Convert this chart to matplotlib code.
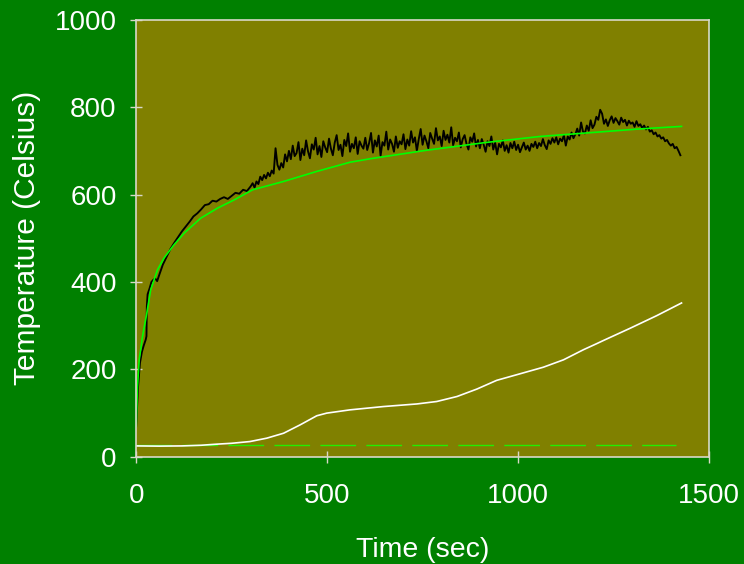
import numpy as np
import matplotlib.pyplot as plt

plt.rcParams['font.family'] = ['Liberation Sans', 'DejaVu Sans']

black_t_start = [0, 5, 10, 15, 20, 25, 27, 28, 30, 35, 40, 45, 50, 55, 60, 70, 80, 90,
                 100, 110, 120, 130, 140, 150, 160, 170, 180, 190, 200, 210, 220, 230,
                 240, 250, 260, 270, 280, 290]
black_v_start = [70, 160, 215, 240, 255, 268, 276, 345, 372, 385, 400, 405, 408, 402, 415,
                 440, 458, 476, 490, 503, 516, 527, 538, 550, 557, 566, 576, 578, 586, 584,
                 590, 594, 590, 597, 604, 602, 611, 608]

# rest of the black trace, one reading every 5 s from 300 s
black_v_rest = [
    619, 626, 616, 630, 624, 641, 633, 645, 637, 650, 642, 655, 648, 706, 668, 657, 672, 662, 692, 676,
    700, 681, 712, 688, 695, 720, 679, 705, 690, 724, 699, 683, 715, 703, 730, 692, 711, 686, 722, 708,
    697, 728, 705, 690, 719, 736, 702, 714, 688, 725, 711, 740, 698, 716, 706, 731, 693, 722, 712, 705,
    730, 702, 718, 741, 696, 724, 710, 735, 689, 720, 712, 744, 703, 726, 716, 698, 733, 707, 722, 715,
    738, 704, 726, 712, 745, 719, 731, 700, 727, 750, 714, 735, 722, 706, 741, 728, 716, 752, 724, 733,
    711, 746, 725, 737, 719, 754, 713, 730, 722, 742, 708, 727, 736, 716, 703, 731, 721, 740, 710, 725,
    706, 727, 714, 698, 722, 711, 733, 703, 719, 692, 716, 708, 724, 700, 713, 696, 718, 706, 721, 702,
    714, 697, 708, 719, 703, 712, 700, 716, 709, 721, 706, 718, 711, 727, 713, 704, 724, 716, 729, 719,
    731, 715, 728, 722, 736, 712, 733, 726, 742, 729, 738, 751, 735, 765, 744, 740, 758, 746, 770, 752,
    760, 778, 771, 794, 785, 762, 772, 757, 770, 779, 764, 775, 768, 760, 776, 766, 771, 758, 769, 762,
    765, 755, 768, 757, 761, 752, 758, 749, 755, 744, 747, 738, 742, 733, 736, 728, 731, 722, 725, 717,
    712, 716, 706, 709, 700, 690]
black_t_rest = list(300 + 5 * np.arange(len(black_v_rest)))

black_t = black_t_start + black_t_rest
black_v = black_v_start + black_v_rest

# model fit (bright green)
fit_t = [0, 3.5, 8, 16.6, 28, 38, 56, 73, 99, 126, 169, 213, 257, 305, 386, 473, 560,
         613, 757, 914, 1058, 1210, 1315, 1428]
fit_v = [69, 161, 222, 275, 329, 382, 428, 455, 485, 512, 546, 569, 588, 611, 630, 653, 674,
         682, 701, 719, 733, 743, 750, 756]

# second thermocouple (white)
white_t = [0, 60, 120, 170, 211, 250, 298, 342, 386, 429, 473, 499, 560, 647, 735, 787, 840,
           892, 944, 997, 1066, 1119, 1171, 1206, 1223, 1293, 1363, 1428]
white_v = [25, 24.5, 25, 26.5, 29, 31, 35, 42.7, 54, 73, 94, 100, 107.5, 115, 121, 126.6, 138,
           155, 175, 188, 205, 222, 245, 259, 266, 294, 323, 352]

# ambient (dashed)
amb_t = [0, 1413]
amb_v = [26.5, 26.5]

fig = plt.figure(figsize=(7.44, 5.64), dpi=100, facecolor='#008000')
ax = fig.add_axes([0.183, 0.19, 0.770, 0.775])
ax.set_facecolor('#808000')

ax.plot(amb_t, amb_v, color='#22ee00', lw=1.0, dashes=(25.7, 7.4))
ax.plot(white_t, white_v, color='white', lw=1.2)
ax.plot(black_t, black_v, color='black', lw=1.35)
ax.plot(fit_t, fit_v, color='#00ff00', lw=1.2)

ax.set_xlim(0, 1500)
ax.set_ylim(0, 1000)
ax.set_xticks([0, 500, 1000, 1500])
ax.set_yticks([0, 200, 400, 600, 800, 1000])

for s in ax.spines.values():
    s.set_color('#d8d8c8')
    s.set_linewidth(1.2)
ax.tick_params(colors='#d8d8c8', labelcolor='white', labelsize=20,
               direction='inout', length=8, width=1.0, pad=10)
ax.tick_params(axis='x', pad=15)

ax.set_xlabel('Time (sec)', color='white', fontsize=20.5, labelpad=20)
ax.set_ylabel('Temperature (Celsius)', color='white', fontsize=21.5, labelpad=10)

fig.savefig('out.png', dpi=100, facecolor=fig.get_facecolor())
